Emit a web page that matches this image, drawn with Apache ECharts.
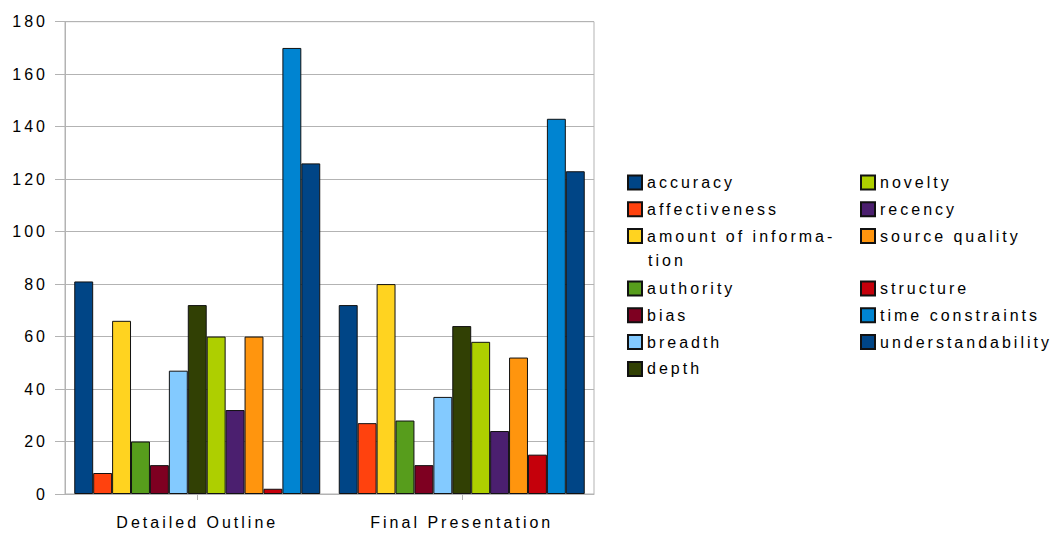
<!DOCTYPE html>
<html>
<head>
<meta charset="utf-8">
<script src="https://cdn.jsdelivr.net/npm/echarts@6/dist/echarts.min.js"></script>
<style>
  html, body { margin: 0; padding: 0; background: #fff; }
  #chart { width: 1060px; height: 533px; }
  /* spaced-out lettering used throughout the chart */
  #chart text { letter-spacing: 3px; }
</style>
</head>
<body>
<div id="chart"></div>
<script>
// Categories on the x axis
const categories = ['Detailed Outline', 'Final Presentation'];

// Criteria (one bar series each)
const criteria = [
  'accuracy', 'affectiveness', 'amount of information', 'authority', 'bias',
  'breadth', 'depth', 'novelty', 'recency', 'source quality', 'structure',
  'time constraints', 'understandability'
];

// Counts per criterion, in the same order as above
const detailedOutline   = [81, 8, 66, 20, 11, 47, 72, 60, 32, 60, 2, 170, 126];
const finalPresentation = [72, 27, 80, 28, 11, 37, 64, 58, 24, 52, 15, 143, 123];

// Value axis ticks
const yTicks = [0, 20, 40, 60, 80, 100, 120, 140, 160, 180];

// Bar colours
const palette = [
  '#004586', '#ff420e', '#ffd320', '#579d1c', '#7e0021', '#83caff',
  '#314004', '#aecf00', '#4b1f6f', '#ff950e', '#c5000b', '#0084d1', '#004586'
];

const FONT = 'Liberation Sans';
const GRIDC = '#b3b3b3';

const series = criteria.map((name, i) => ({
  name: name,
  type: 'bar',
  barGap: '0%',
  barCategoryGap: '7%',
  data: [detailedOutline[i], finalPresentation[i]],
  itemStyle: { color: palette[i], borderColor: '#111', borderWidth: 1 },
  emphasis: { disabled: true }
}));

// Legend in two columns, split where the wrapped label needs extra room
const wrapAt = 'amount of informa'.length;
function legendBlock(names, left, top) {
  return {
    data: names,
    orient: 'vertical',
    left: left,
    top: top,
    padding: 0,
    itemWidth: 14,
    itemHeight: 14,
    itemGap: 10.8,
    icon: 'rect',
    selectedMode: false,
    formatter: n => n === criteria[2] ? n.slice(0, wrapAt) + '-' : n,
    textStyle: { fontFamily: FONT, fontSize: 16, color: '#000', lineHeight: 14 }
  };
}

const option = {
  animation: false,
  backgroundColor: '#fff',
  grid: {
    left: 65, right: 466, top: 21.7, bottom: 39,
    show: true, borderColor: GRIDC, borderWidth: 1, containLabel: false
  },
  xAxis: {
    type: 'category',
    data: categories,
    axisLine: { show: true, lineStyle: { color: GRIDC, width: 1 } },
    axisTick: { show: true, alignWithLabel: true, length: 6, lineStyle: { color: GRIDC } },
    axisLabel: { fontFamily: FONT, fontSize: 16, color: '#000', margin: 20 },
    splitLine: { show: false }
  },
  yAxis: {
    type: 'value',
    min: yTicks[0],
    max: yTicks[yTicks.length - 1],
    interval: yTicks[1] - yTicks[0],
    axisLine: { show: true, lineStyle: { color: GRIDC, width: 1 } },
    axisTick: { show: true, length: 10, inside: false, lineStyle: { color: GRIDC } },
    axisLabel: { fontFamily: FONT, fontSize: 16, color: '#000', margin: 17 },
    splitLine: { show: true, lineStyle: { color: GRIDC, width: 1 } }
  },
  legend: [
    legendBlock(criteria.slice(0, 3), 627, 174.5),
    legendBlock(criteria.slice(3, 7), 627, 280.5),
    legendBlock(criteria.slice(7, 10), 860, 174.5),
    legendBlock(criteria.slice(10, 13), 860, 280.5)
  ],
  graphic: [{
    type: 'text',
    left: 648,
    top: 252,
    style: {
      text: criteria[2].slice(wrapAt),
      font: '16px "' + FONT + '"',
      fill: '#000'
    }
  }],
  series: series
};

const chart = echarts.init(document.getElementById('chart'), null, { renderer: 'svg' });
chart.setOption(option);
</script>
</body>
</html>
